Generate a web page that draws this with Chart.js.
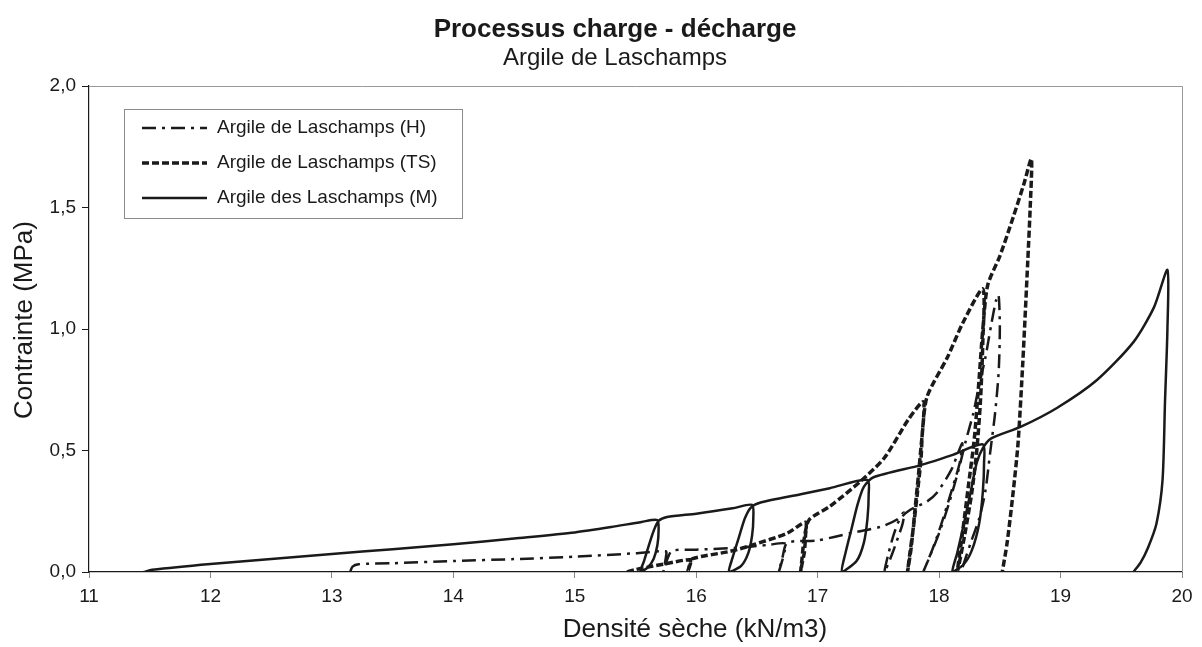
<!DOCTYPE html>
<html><head><meta charset="utf-8">
<script src="https://cdn.jsdelivr.net/npm/chart.js@4.4.0/dist/chart.umd.min.js"></script>
<style>html,body{margin:0;padding:0;background:#fff}#wrap{width:1202px;height:647px;position:relative}</style>
</head><body><div id="wrap"><canvas id="c" width="1202" height="647"></canvas></div>
<script>
// ---- data ----
const chartTitle = "Processus charge - décharge";
const chartSubtitle = "Argile de Laschamps";
const xAxisTitle = "Densité sèche (kN/m3)";
const yAxisTitle = "Contrainte (MPa)";
const xTickValues = [11,12,13,14,15,16,17,18,19,20];
const yTickValues = [0,0.5,1,1.5,2];
const seriesNames = ["Argile de Laschamps (H)","Argile de Laschamps (TS)","Argile des Laschamps (M)"];

const hDensity = [13.15,13.17,13.22,13.5,14.0,14.5,15.0,15.5,15.75,15.75,15.73,15.76,15.8,16.0,16.36,16.6,16.73,16.73,16.71,16.68,16.71,16.75,17.0,17.27,17.52,17.65,17.71,17.70,17.66,17.61,17.55,17.58,17.63,17.68,17.76,17.9,17.98,18.1,18.19,18.17,18.1,18.02,17.95,17.87,17.92,18.0,18.08,18.16,18.22,18.28,18.33,18.38,18.43,18.47,18.49,18.5,18.49,18.46,18.42,18.38,18.33,18.26,18.18];
const hStress  = [0,0.022,0.032,0.036,0.045,0.053,0.063,0.077,0.085,0.06,0.0,0.05,0.087,0.092,0.1,0.112,0.118,0.09,0.05,0.0,0.06,0.12,0.13,0.16,0.186,0.215,0.245,0.2,0.14,0.07,0.0,0.07,0.16,0.22,0.255,0.29,0.325,0.42,0.53,0.45,0.33,0.2,0.1,0.0,0.06,0.16,0.28,0.42,0.54,0.65,0.77,0.88,1.02,1.12,1.14,1.0,0.82,0.65,0.49,0.33,0.22,0.12,0.0];

const tsDensity = [15.43,15.5,15.6,15.76,15.95,15.94,15.93,15.95,15.97,16.28,16.47,16.75,16.9,16.9,16.89,16.87,16.86,16.87,16.89,16.93,17.1,17.35,17.55,17.75,17.87,17.86,17.85,17.82,17.79,17.76,17.74,17.77,17.80,17.83,17.86,17.9,18.07,18.2,18.36,18.36,18.34,18.31,18.27,18.21,18.15,18.19,18.24,18.29,18.33,18.36,18.40,18.5,18.61,18.7,18.76,18.75,18.73,18.69,18.65,18.61,18.56,18.52];
const tsStress  = [0,0.01,0.02,0.035,0.05,0.02,0.0,0.03,0.055,0.085,0.112,0.16,0.205,0.15,0.08,0.03,0.0,0.05,0.14,0.215,0.27,0.372,0.47,0.63,0.70,0.56,0.46,0.32,0.19,0.08,0.0,0.1,0.25,0.4,0.56,0.72,0.885,1.03,1.165,0.95,0.7,0.5,0.33,0.15,0.0,0.15,0.35,0.55,0.8,1.0,1.18,1.3,1.46,1.6,1.70,1.5,1.28,0.87,0.53,0.33,0.12,0.0];

const mDensity = [11.45,11.52,12.0,12.5,13.0,13.5,14.0,14.5,15.0,15.3,15.55,15.68,15.69,15.68,15.65,15.60,15.54,15.57,15.61,15.65,15.69,15.76,16.0,16.3,16.46,16.47,16.46,16.43,16.37,16.27,16.30,16.35,16.40,16.45,16.53,16.86,17.1,17.41,17.42,17.41,17.38,17.32,17.20,17.23,17.28,17.33,17.38,17.46,17.85,18.1,18.36,18.37,18.36,18.33,18.27,18.20,18.11,18.15,18.20,18.26,18.31,18.36,18.43,18.67,18.97,19.30,19.60,19.77,19.88,19.88,19.86,19.84,19.79,19.72,19.66,19.60];
const mStress  = [0,0.009,0.033,0.053,0.074,0.094,0.114,0.138,0.163,0.185,0.206,0.214,0.17,0.11,0.055,0.018,0.0,0.045,0.11,0.17,0.21,0.226,0.24,0.262,0.276,0.22,0.15,0.08,0.025,0.0,0.06,0.14,0.22,0.265,0.286,0.32,0.345,0.379,0.32,0.22,0.12,0.045,0.0,0.08,0.18,0.28,0.35,0.39,0.44,0.48,0.525,0.45,0.33,0.2,0.09,0.03,0.0,0.08,0.19,0.33,0.45,0.51,0.55,0.597,0.675,0.79,0.946,1.09,1.243,1.0,0.7,0.38,0.2,0.1,0.04,0.0];

// ---- build ----
function pts(xs, ys){ return xs.map((x,i)=>({x:x, y:ys[i]})); }
const FONT = "'Liberation Sans', Arial, sans-serif";
const INK = '#1a1a1a';
const fmt = v => v.toFixed(1).replace('.', ',');

const textPlugin = {
  id: 'texts',
  afterDraw(chart){
    const ctx = chart.ctx, a = chart.chartArea;
    ctx.save();
    ctx.fillStyle = INK; ctx.textAlign = 'center'; ctx.textBaseline = 'middle';
    ctx.font = "bold 26px " + FONT; ctx.fillText(chartTitle, 615, 30);
    ctx.font = "24px " + FONT; ctx.fillText(chartSubtitle, 615, 58);
    ctx.font = "26px " + FONT; ctx.fillText(xAxisTitle, 695, 630);
    ctx.translate(25, 320); ctx.rotate(-Math.PI/2);
    ctx.fillText(yAxisTitle, 0, 0);
    ctx.restore();
    ctx.save();
    ctx.strokeStyle = '#9a9a9a'; ctx.lineWidth = 1;
    ctx.beginPath(); ctx.moveTo(a.left, a.top+0.5); ctx.lineTo(a.right+0.5, a.top+0.5); ctx.lineTo(a.right+0.5, a.bottom); ctx.stroke();
    ctx.restore();
  }
};
const legendPlugin = {
  id: 'boxLegend',
  afterDatasetsDraw(chart){
    const ctx = chart.ctx;
    const L = 124, T = 109, W = 338, H = 109;
    ctx.save();
    ctx.fillStyle = '#fff'; ctx.fillRect(L, T, W, H);
    ctx.strokeStyle = '#8c8c8c'; ctx.lineWidth = 1; ctx.strokeRect(L+0.5, T+0.5, W, H);
    chart.data.datasets.forEach((ds, i) => {
      const y = T + 19 + i*35;
      ctx.strokeStyle = ds.borderColor; ctx.lineWidth = ds.borderWidth;
      ctx.setLineDash(ds.borderDash || []);
      ctx.beginPath(); ctx.moveTo(142, y); ctx.lineTo(207, y); ctx.stroke();
      ctx.setLineDash([]);
      ctx.fillStyle = INK; ctx.font = "19px " + FONT; ctx.textAlign = 'left'; ctx.textBaseline = 'middle';
      ctx.fillText(ds.label, 217, y);
    });
    ctx.restore();
  }
};

new Chart(document.getElementById('c'), {
  type: 'scatter',
  data: { datasets: [
    { label: seriesNames[0], data: pts(hDensity,hStress), showLine:true, borderColor:INK, borderWidth:2.5, borderDash:[14,6,3,6], pointRadius:0, tension:0.25, fill:false },
    { label: seriesNames[1], data: pts(tsDensity,tsStress), showLine:true, borderColor:INK, borderWidth:3.5, borderDash:[7,3], pointRadius:0, tension:0.25, fill:false },
    { label: seriesNames[2], data: pts(mDensity,mStress), showLine:true, borderColor:INK, borderWidth:2.5, pointRadius:0, tension:0.25, fill:false }
  ]},
  options: {
    responsive:false, animation:false, devicePixelRatio:1,
    layout:{ padding:{ top:86, right:20, left:0, bottom:0 } },
    plugins:{ legend:{display:false}, tooltip:{enabled:false}, title:{display:false} },
    scales:{
      x:{ type:'linear', min:11, max:20,
        afterFit(s){ s.height = 75; },
        afterBuildTicks(s){ s.ticks = xTickValues.map(v=>({value:v})); },
        ticks:{ color:INK, font:{family:FONT, size:19}, padding:7, maxRotation:0, callback:v=>String(v) },
        grid:{ drawOnChartArea:false, drawTicks:true, tickLength:6, color:'#888' },
        border:{ color:INK, width:1.2 },
        title:{ display:false }
      },
      y:{ type:'linear', min:0, max:2,
        afterFit(s){ s.width = 89; },
        afterBuildTicks(s){ s.ticks = yTickValues.map(v=>({value:v})); },
        ticks:{ color:INK, font:{family:FONT, size:19}, padding:6, callback:v=>fmt(v) },
        grid:{ drawOnChartArea:false, drawTicks:true, tickLength:7, color:INK },
        border:{ color:INK, width:1.2 },
        title:{ display:false }
      }
    }
  },
  plugins:[textPlugin, legendPlugin]
});
</script></body></html>
